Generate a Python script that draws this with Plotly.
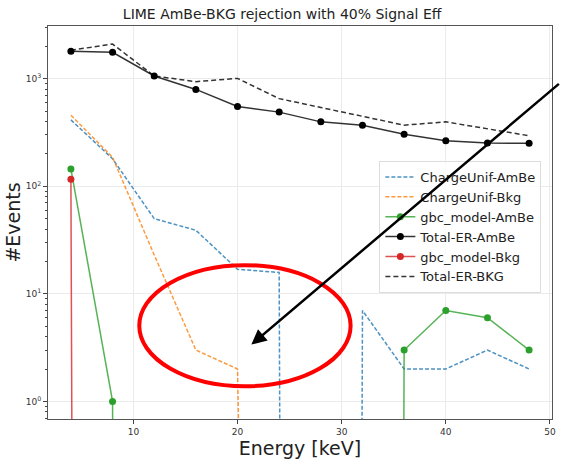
import numpy as np
import plotly.graph_objects as go

energy = [4, 8, 12, 16, 20, 24, 28, 32, 36, 40, 44, 48]
charge_unif_ambe = [414, 180, 50, 39, 16.9, 15.8, 0, 7, 2, 2, 3, 2]
charge_unif_bkg = [458, 186, 23, 3, 2, 0, 0, 0, 0, 0, 0, 0]
gbc_model_ambe = [145, 1, 0, 0, 0, 0, 0, 0, 3, 7, 6, 3]
total_er_ambe = [1800, 1760, 1060, 795, 551, 489, 397, 370, 305, 265, 252, 251]
gbc_model_bkg = [116, 0, 0, 0, 0, 0, 0, 0, 0, 0, 0, 0]
total_er_bkg = [1840, 2100, 1060, 938, 1006, 653, 540, 446, 370, 397, 345, 295]

x_ticks = [10, 20, 30, 40, 50]
y_ticks = [1, 10, 100, 1000]
y_tick_text = ["10<sup>0</sup>", "10<sup>1</sup>", "10<sup>2</sup>", "10<sup>3</sup>"]


def clip(v):
    # emulate matplotlib's log-scale clipping of non-positive values
    a = np.asarray(v, dtype=float)
    return np.where(a > 0, a, 1e-100)


W, H = 562, 460
L, R, T, B = 48, 6, 26, 38
pw, ph = W - L - R, H - T - B


def px(xp):
    return (xp - L) / pw


def py(yp):
    return (H - B - yp) / ph


fig = go.Figure()
fig.add_trace(go.Scatter(x=energy, y=clip(charge_unif_ambe), name="ChargeUnif-AmBe",
                         mode="lines", line=dict(color="rgba(31,119,180,0.8)", width=1.5, dash="4px,2px")))
fig.add_trace(go.Scatter(x=energy, y=clip(charge_unif_bkg), name="ChargeUnif-Bkg",
                         mode="lines", line=dict(color="rgba(255,127,14,0.8)", width=1.5, dash="4px,2px")))
fig.add_trace(go.Scatter(x=energy, y=clip(gbc_model_ambe), name="gbc_model-AmBe",
                         mode="lines+markers", line=dict(color="rgba(44,160,44,0.8)", width=1.5),
                         marker=dict(color="#2ca02c", size=7)))
fig.add_trace(go.Scatter(x=energy, y=clip(total_er_ambe), name="Total-ER-AmBe",
                         mode="lines+markers", line=dict(color="rgba(0,0,0,0.8)", width=1.5),
                         marker=dict(color="black", size=7)))
fig.add_trace(go.Scatter(x=energy, y=clip(gbc_model_bkg), name="gbc_model-Bkg",
                         mode="lines+markers", line=dict(color="rgba(214,39,40,0.8)", width=1.5),
                         marker=dict(color="#d62728", size=7)))
fig.add_trace(go.Scatter(x=energy, y=clip(total_er_bkg), name="Total-ER-BKG",
                         mode="lines", line=dict(color="rgba(0,0,0,0.8)", width=1.5, dash="5px,3px")))

minor_vals = []
for k in range(-1, 4):
    for m in range(2, 10):
        v = m * 10 ** k
        if 0.686 <= v <= 3090:
            minor_vals.append(v)

fig.update_xaxes(range=[1.8, 50.2], tickvals=x_ticks, ticks="outside", ticklen=4,
                 tickcolor="#444", showline=True, linecolor="#555", linewidth=1, mirror=True,
                 showgrid=True, gridcolor="#ebebeb", gridwidth=1, zeroline=False,
                 tickfont=dict(family="DejaVu Sans", size=9, color="#333"),
                 title=dict(text="Energy [keV]", font=dict(family="DejaVu Sans", size=19, color="#222"),
                            standoff=4))
fig.update_yaxes(type="log", range=[np.log10(0.686), np.log10(3090)], tickvals=y_ticks,
                 ticktext=y_tick_text, ticks="outside", ticklen=4, tickcolor="#444",
                 showline=True, linecolor="#555", linewidth=1, mirror=True,
                 showgrid=True, gridcolor="#ebebeb", gridwidth=1, zeroline=False,
                 minor=dict(tickvals=minor_vals, ticks="outside", ticklen=2, tickcolor="#444",
                            showgrid=False),
                 tickfont=dict(family="DejaVu Sans", size=9, color="#333"),
                 title=dict(text="#Events", font=dict(family="DejaVu Sans", size=19, color="#222"),
                            standoff=0))

fig.update_layout(
    width=W, height=H,
    margin=dict(l=L, r=R, t=T, b=B),
    paper_bgcolor="white", plot_bgcolor="white",
    title=dict(text="LIME AmBe-BKG rejection with 40% Signal Eff", x=0.502, xanchor="center",
               y=1 - 14 / H, yanchor="middle",
               font=dict(family="DejaVu Sans", size=14, color="#222")),
    legend=dict(x=px(382), y=py(162), xanchor="left", yanchor="top",
                bgcolor="rgba(255,255,255,0.8)", bordercolor="#dddddd", borderwidth=1,
                font=dict(family="DejaVu Sans", size=13, color="#222"),
                tracegroupgap=0, itemwidth=30),
    showlegend=True,
    shapes=[dict(type="circle", xref="paper", yref="paper",
                 x0=px(140), x1=px(353), y0=py(389), y1=py(267),
                 line=dict(color="red", width=4), layer="above")],
    annotations=[dict(xref="paper", yref="paper", x=px(253), y=py(347),
                      ax=562 - 253, ay=85 - 347, axref="pixel", ayref="pixel",
                      showarrow=True, arrowhead=2, arrowsize=1.2, arrowwidth=2.5,
                      arrowcolor="black", text="")],
)

fig.write_html("out.html")
